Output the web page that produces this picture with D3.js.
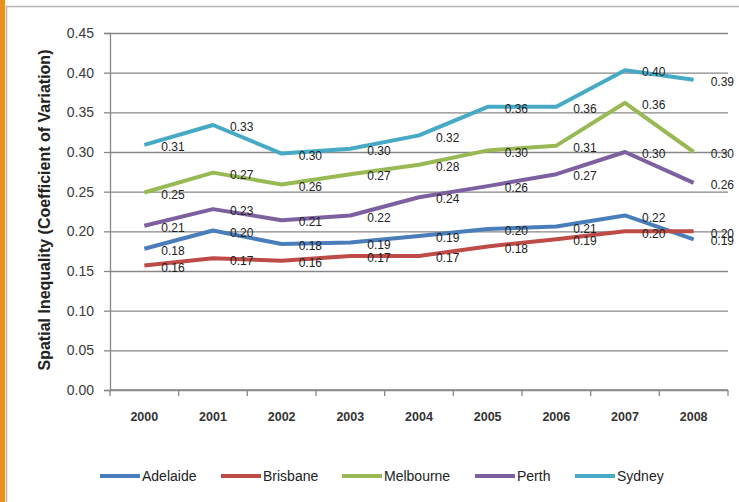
<!DOCTYPE html>
<html>
<head>
<meta charset="utf-8">
<script src="https://cdn.jsdelivr.net/npm/d3@7"></script>
<style>
  body { margin: 0; background: #fff; }
  svg { display: block; font-family: "Liberation Sans", Arial, sans-serif; }
</style>
</head>
<body>
<div id="chart"></div>
<script>
// data
var years = ["2000", "2001", "2002", "2003", "2004", "2005", "2006", "2007", "2008"];
var cities = ["Adelaide", "Brisbane", "Melbourne", "Perth", "Sydney"];
var adelaide  = [0.178, 0.201, 0.184, 0.186, 0.194, 0.203, 0.206, 0.220, 0.190];
var brisbane  = [0.157, 0.166, 0.163, 0.169, 0.169, 0.181, 0.190, 0.200, 0.200];
var melbourne = [0.249, 0.274, 0.259, 0.272, 0.284, 0.302, 0.308, 0.362, 0.300];
var perth     = [0.207, 0.228, 0.214, 0.220, 0.243, 0.257, 0.272, 0.300, 0.261];
var sydney    = [0.309, 0.334, 0.298, 0.304, 0.321, 0.357, 0.357, 0.403, 0.391];
var yTicks = [0, 0.05, 0.10, 0.15, 0.20, 0.25, 0.30, 0.35, 0.40, 0.45];

var colours = ["#4a7ebb", "#be4b48", "#98b954", "#7d60a0", "#46aac5"];
var series = [adelaide, brisbane, melbourne, perth, sydney];

var width = 739, height = 502;
var margin = {top: 33, right: 11, bottom: 112, left: 110};

var svg = d3.select("#chart")
    .append("svg")
    .attr("width", width)
    .attr("height", height);

// frame: orange strip and grey border
svg.append("rect")
    .attr("x", 0).attr("y", 0)
    .attr("width", 5).attr("height", height)
    .attr("fill", "#e8921a");
svg.append("rect")
    .attr("x", 6.5).attr("y", 6.5)
    .attr("width", width + 10).attr("height", height + 10)
    .attr("fill", "none")
    .attr("stroke", "#b4b4b4")
    .attr("stroke-width", 1.5);

var x = d3.scaleBand()
    .domain(years)
    .range([margin.left, width - margin.right]);

var y = d3.scaleLinear()
    .domain([0, 0.45])
    .range([height - margin.bottom, margin.top]);

var cx = function(i) { return x(years[i]) + x.bandwidth() / 2; };

// gridlines
svg.append("g")
    .attr("transform", "translate(" + margin.left + ",0)")
    .call(d3.axisLeft(y).tickValues(yTicks).tickSize(-(width - margin.right - margin.left)).tickFormat(""))
    .call(function(g) { g.select(".domain").remove(); })
    .selectAll("line")
    .attr("stroke", "#878787")
    .attr("stroke-width", 1.3);

// y axis
var yAxis = svg.append("g")
    .attr("transform", "translate(" + margin.left + ",0)")
    .call(d3.axisLeft(y).tickValues(yTicks).tickSize(6).tickPadding(10).tickFormat(d3.format(".2f")));
yAxis.select(".domain").attr("stroke", "#878787").attr("stroke-width", 1.3);
yAxis.selectAll(".tick line").attr("stroke", "#878787").attr("stroke-width", 1.3);
yAxis.selectAll("text")
    .attr("fill", "#3a3a3a")
    .style("font-size", "14px");

// x axis line with ticks at the band edges
var xAxis = svg.append("g");
xAxis.append("line")
    .attr("x1", margin.left).attr("x2", width - margin.right)
    .attr("y1", y(0)).attr("y2", y(0))
    .attr("stroke", "#878787").attr("stroke-width", 1.3);
xAxis.selectAll(".edge")
    .data(years.concat(["end"]))
    .enter()
    .append("line")
    .attr("x1", function(d) { return d == "end" ? width - margin.right : x(d); })
    .attr("x2", function(d) { return d == "end" ? width - margin.right : x(d); })
    .attr("y1", y(0)).attr("y2", y(0) + 6)
    .attr("stroke", "#878787").attr("stroke-width", 1.3);
xAxis.selectAll(".year")
    .data(years)
    .enter()
    .append("text")
    .attr("x", function(d) { return x(d) + x.bandwidth() / 2; })
    .attr("y", y(0) + 31)
    .attr("text-anchor", "middle")
    .attr("fill", "#333")
    .style("font-size", "12.5px")
    .style("font-weight", "bold")
    .text(function(d) { return d; });

// y axis title
svg.append("text")
    .attr("transform", "translate(50," + 210 + ") rotate(-90)")
    .attr("text-anchor", "middle")
    .attr("fill", "#222")
    .style("font-size", "16px")
    .style("font-weight", "bold")
    .text("Spatial Inequality (Coefficient of Variation)");

// lines
var line = d3.line()
    .x(function(d, i) { return cx(i); })
    .y(function(d) { return y(d); });

svg.selectAll(".series")
    .data(series)
    .enter()
    .append("path")
    .attr("d", line)
    .attr("fill", "none")
    .attr("stroke", function(d, i) { return colours[i]; })
    .attr("stroke-width", 4)
    .attr("stroke-linejoin", "round");

// data labels to the right of each point
series.forEach(function(vals) {
    svg.append("g")
        .selectAll("text")
        .data(vals)
        .enter()
        .append("text")
        .attr("x", function(d, i) { return cx(i) + 17; })
        .attr("y", function(d) { return y(d) + 2; })
        .attr("dy", "0.35em")
        .attr("fill", "#222")
        .style("font-size", "12px")
        .text(function(d) { return d3.format(".2f")(d); });
});

// legend
var legendX = [100, 221, 342, 475, 575];
var legend = svg.append("g")
    .attr("transform", "translate(0,476)");
var items = legend.selectAll("g")
    .data(cities)
    .enter()
    .append("g")
    .attr("transform", function(d, i) { return "translate(" + legendX[i] + ",0)"; });
items.append("line")
    .attr("x1", 0).attr("x2", 40)
    .attr("y1", 0).attr("y2", 0)
    .attr("stroke", function(d, i) { return colours[i]; })
    .attr("stroke-width", 4);
items.append("text")
    .attr("x", 42)
    .attr("dy", "0.35em")
    .attr("fill", "#222")
    .style("font-size", "14px")
    .text(function(d) { return d; });
</script>
</body>
</html>
